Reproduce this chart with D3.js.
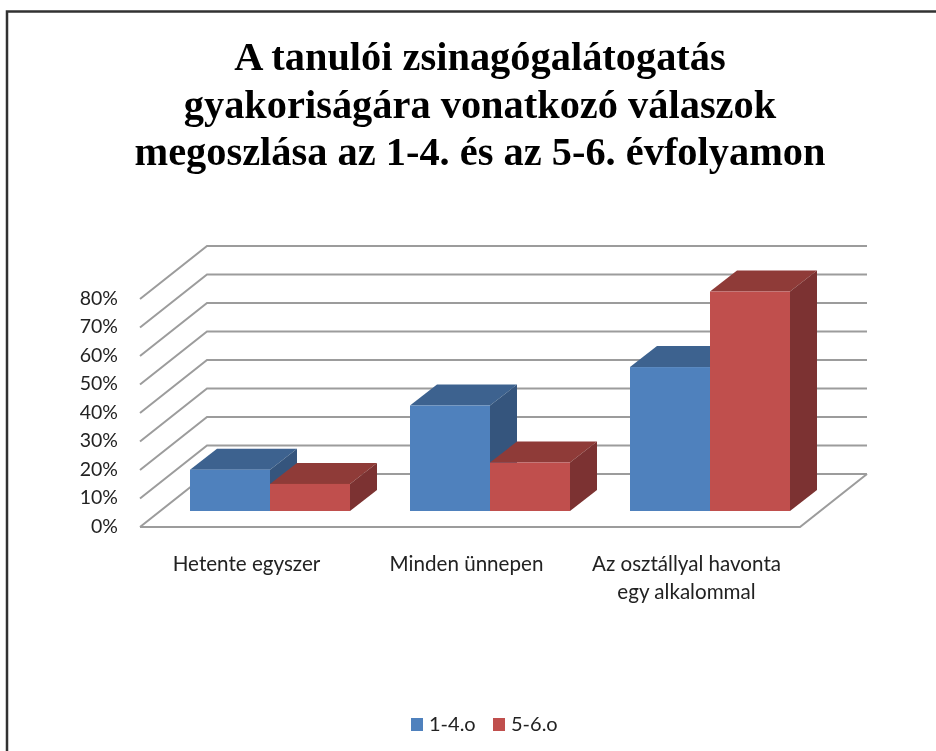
<!DOCTYPE html>
<html><head><meta charset="utf-8">
<script src="https://cdn.jsdelivr.net/npm/d3@7"></script>
<style>html,body{margin:0;padding:0;background:#fff}svg{display:block}</style></head>
<body><svg id="c" width="936" height="751"></svg>
<script>
const titleLines = ["A tanulói zsinagógalátogatás","gyakoriságára vonatkozó válaszok","megoszlása az 1-4. és az 5-6. évfolyamon"];
const categories = ["Hetente egyszer","Minden ünnepen","Az osztállyal havonta|egy alkalommal"];
const seriesNames = ["1-4.o","5-6.o"];
const seriesColors = ["#4f81bd","#c0504d"];
const seriesTop = ["#3c628f","#8f3b38"];
const seriesSide = ["#35557d","#7b3230"];
const values14 = [14.5, 37, 50.5];
const values56 = [9.5, 17, 77];
const ticks = [0,10,20,30,40,50,60,70,80];

const svg = d3.select("#c");
const defs = svg.append("defs");
defs.append("filter").attr("id","soft").append("feGaussianBlur").attr("stdDeviation",0.5);
const g = svg.append("g").attr("filter","url(#soft)");

// frame
g.append("path").attr("d","M7,751V11.5H936").attr("fill","none").attr("stroke","#333").attr("stroke-width",2.5);

const floorFront = 527, floorLeft = 140, floorRight = 800, dx = 67, dy = -53;
const barBase = 511, bdx = 27, bdy = -21;
const y = d3.scaleLinear().domain([0,80]).range([0,-228]);
const x0 = d3.scaleBand().domain(categories).range([190,790]).paddingInner(60/220);
const x1 = d3.scaleBand().domain([0,1]).range([0,x0.bandwidth()]);

const grid = "#9c9c9c";
ticks.forEach(t=>{
  const yy = floorFront + y(t);
  const pts = [[floorLeft,yy],[floorLeft+dx,yy+dy],[floorRight+dx,yy+dy]];
  g.append("path").attr("d",d3.line()(pts)).attr("fill","none").attr("stroke",grid).attr("stroke-width",2);
  g.append("text").attr("x",118).attr("y",yy+5.5).attr("text-anchor","end")
   .attr("font-family","Lato").attr("font-size",19.5).attr("fill","#222").text(t+"%");
});
// floor
g.append("path").attr("d",d3.line()([[floorLeft,floorFront],[floorRight,floorFront],[floorRight+dx,floorFront+dy]]))
 .attr("fill","none").attr("stroke",grid).attr("stroke-width",2);

// bars
const series = [values14, values56];
categories.forEach((c,i)=>{
  series.forEach((vals,s)=>{
    const l = x0(c)+x1(s), r = l+x1.bandwidth(), t = barBase+y(vals[i]);
    const b = g.append("g");
    b.append("path").attr("d",d3.line()([[l,t],[r,t],[r+bdx,t+bdy],[l+bdx,t+bdy]])).attr("fill",seriesTop[s]);
    b.append("path").attr("d",d3.line()([[r,t],[r+bdx,t+bdy],[r+bdx,barBase+bdy],[r,barBase]])).attr("fill",seriesSide[s]);
    b.append("rect").attr("x",l).attr("y",t).attr("width",r-l).attr("height",barBase-t).attr("fill",seriesColors[s]);
  });
  const cx = x0(c)+x0.bandwidth()/2-23.5;
  c.split("|").forEach((ln,k)=>{
    g.append("text").attr("x",cx).attr("y",571+k*28).attr("text-anchor","middle")
     .attr("font-family","Lato").attr("font-size",20.6).attr("fill","#222").text(ln);
  });
});

// title
titleLines.forEach((ln,i)=>{
  g.append("text").attr("x",480).attr("y",70+i*47.5).attr("text-anchor","middle")
   .attr("font-family","Liberation Serif").attr("font-weight","bold").attr("font-size",40.4).attr("fill","#000").text(ln);
});

// legend
const legX = [411,493];
seriesNames.forEach((n,i)=>{
  g.append("rect").attr("x",legX[i]).attr("y",718).attr("width",12).attr("height",13).attr("fill",seriesColors[i]);
  g.append("text").attr("x",legX[i]+18).attr("y",731).attr("font-family","Lato").attr("font-size",20).attr("fill","#222").text(n);
});
</script></body></html>
